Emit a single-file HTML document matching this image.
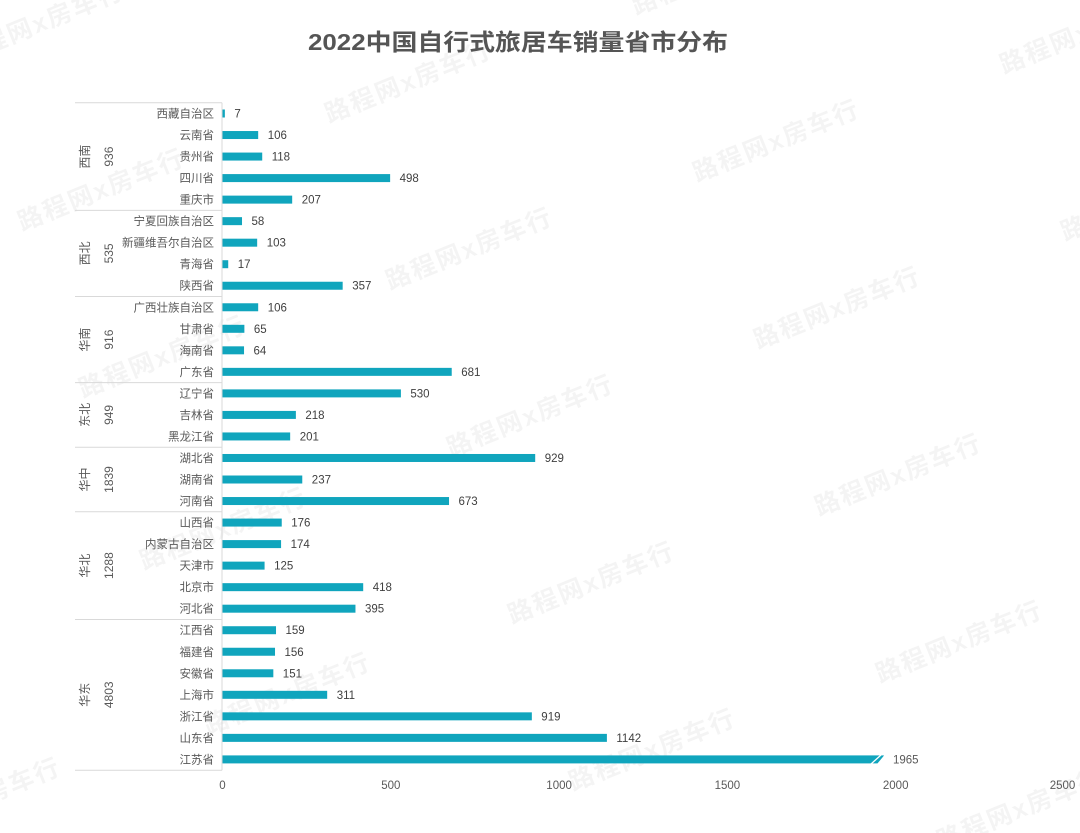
<!DOCTYPE html>
<html><head><meta charset="utf-8"><style>
html,body{margin:0;padding:0;background:#fff;}
svg{display:block;}
.wm{font-family:"Liberation Sans","Noto Sans CJK SC",sans-serif;font-weight:bold;font-size:25px;fill:#000;fill-opacity:0.045;letter-spacing:2px;}
.cat{font-family:"Liberation Sans","Noto Sans CJK SC",sans-serif;font-size:11.5px;fill:#595959;text-anchor:end;}
.val{font-family:"Liberation Sans","Noto Sans CJK SC",sans-serif;font-size:11.5px;fill:#404040;}
.tick{font-family:"Liberation Sans","Noto Sans CJK SC",sans-serif;font-size:11.5px;fill:#595959;text-anchor:middle;}
.grp{font-family:"Liberation Sans","Noto Sans CJK SC",sans-serif;font-size:12px;fill:#595959;text-anchor:middle;dominant-baseline:central;}
</style></head><body>
<svg width="1080" height="833" viewBox="0 0 1080 833" xmlns="http://www.w3.org/2000/svg">
<rect width="1080" height="833" fill="#fff"/>
<!-- watermarks -->
<g class="wm">
<text transform="translate(329,123) rotate(-22)">路程网x房车行</text>
<text transform="translate(390,290) rotate(-22)">路程网x房车行</text>
<text transform="translate(451,457) rotate(-22)">路程网x房车行</text>
<text transform="translate(512,624) rotate(-22)">路程网x房车行</text>
<text transform="translate(573,791) rotate(-22)">路程网x房车行</text>
<text transform="translate(636,15) rotate(-22)">路程网x房车行</text>
<text transform="translate(697,182) rotate(-22)">路程网x房车行</text>
<text transform="translate(758,349) rotate(-22)">路程网x房车行</text>
<text transform="translate(819,516) rotate(-22)">路程网x房车行</text>
<text transform="translate(880,683) rotate(-22)">路程网x房车行</text>
<text transform="translate(941,850) rotate(-22)">路程网x房车行</text>
<text transform="translate(1004,74) rotate(-22)">路程网x房车行</text>
<text transform="translate(1065,241) rotate(-22)">路程网x房车行</text>
<text transform="translate(83,398) rotate(-22)">路程网x房车行</text>
<text transform="translate(22,231) rotate(-22)">路程网x房车行</text>
<text transform="translate(-39,64) rotate(-22)">路程网x房车行</text>
<text transform="translate(144,570) rotate(-22)">路程网x房车行</text>
<text transform="translate(208,735) rotate(-22)">路程网x房车行</text>
<text transform="translate(-163,673) rotate(-22)">路程网x房车行</text>
<text transform="translate(-102,840) rotate(-22)">路程网x房车行</text>
</g>

<!-- title -->
<text x="518" y="50" text-anchor="middle" textLength="420" lengthAdjust="spacingAndGlyphs" style="font-family:'Liberation Sans','Noto Sans CJK SC',sans-serif;font-weight:bold;font-size:23px;fill:#555;">2022中国自行式旅居车销量省市分布</text>

<!-- group lines -->
<g stroke="#d9d9d9" stroke-width="1">
<line x1="75" y1="102.7" x2="222" y2="102.7"/>
<line x1="75" y1="210.4" x2="222" y2="210.4"/>
<line x1="75" y1="296.5" x2="222" y2="296.5"/>
<line x1="75" y1="382.6" x2="222" y2="382.6"/>
<line x1="75" y1="447.2" x2="222" y2="447.2"/>
<line x1="75" y1="511.8" x2="222" y2="511.8"/>
<line x1="75" y1="619.5" x2="222" y2="619.5"/>
<line x1="75" y1="770.2" x2="222" y2="770.2"/>
<line x1="222" y1="102.7" x2="222" y2="770.2"/>
</g>

<!-- group labels -->
<g class="grp">
<text transform="translate(85,156.6) rotate(-90)">西南</text>
<text transform="translate(109,156.6) rotate(-90)">936</text>
<text transform="translate(85,253.4) rotate(-90)">西北</text>
<text transform="translate(109,253.4) rotate(-90)">535</text>
<text transform="translate(85,339.6) rotate(-90)">华南</text>
<text transform="translate(109,339.6) rotate(-90)">916</text>
<text transform="translate(85,414.9) rotate(-90)">东北</text>
<text transform="translate(109,414.9) rotate(-90)">949</text>
<text transform="translate(85,479.5) rotate(-90)">华中</text>
<text transform="translate(109,479.5) rotate(-90)">1839</text>
<text transform="translate(85,565.6) rotate(-90)">华北</text>
<text transform="translate(109,565.6) rotate(-90)">1288</text>
<text transform="translate(85,694.8) rotate(-90)">华东</text>
<text transform="translate(109,694.8) rotate(-90)">4803</text>
</g>

<!-- bars -->
<g fill="#10a5bd">
<rect x="222.5" y="109.5" width="2.36" height="8"/>
<rect x="222.5" y="131.03" width="35.68" height="8"/>
<rect x="222.5" y="152.56" width="39.72" height="8"/>
<rect x="222.5" y="174.09" width="167.63" height="8"/>
<rect x="222.5" y="195.62" width="69.68" height="8"/>
<rect x="222.5" y="217.15" width="19.52" height="8"/>
<rect x="222.5" y="238.68" width="34.67" height="8"/>
<rect x="222.5" y="260.21" width="5.72" height="8"/>
<rect x="222.5" y="281.74" width="120.17" height="8"/>
<rect x="222.5" y="303.27" width="35.68" height="8"/>
<rect x="222.5" y="324.8" width="21.88" height="8"/>
<rect x="222.5" y="346.33" width="21.54" height="8"/>
<rect x="222.5" y="367.86" width="229.22" height="8"/>
<rect x="222.5" y="389.39" width="178.40" height="8"/>
<rect x="222.5" y="410.92" width="73.38" height="8"/>
<rect x="222.5" y="432.45" width="67.66" height="8"/>
<rect x="222.5" y="453.98" width="312.70" height="8"/>
<rect x="222.5" y="475.51" width="79.77" height="8"/>
<rect x="222.5" y="497.04" width="226.53" height="8"/>
<rect x="222.5" y="518.57" width="59.24" height="8"/>
<rect x="222.5" y="540.1" width="58.57" height="8"/>
<rect x="222.5" y="561.63" width="42.08" height="8"/>
<rect x="222.5" y="583.16" width="140.70" height="8"/>
<rect x="222.5" y="604.69" width="132.96" height="8"/>
<rect x="222.5" y="626.22" width="53.52" height="8"/>
<rect x="222.5" y="647.75" width="52.51" height="8"/>
<rect x="222.5" y="669.28" width="50.83" height="8"/>
<rect x="222.5" y="690.81" width="104.68" height="8"/>
<rect x="222.5" y="712.34" width="309.34" height="8"/>
<rect x="222.5" y="733.87" width="384.40" height="8"/>
<rect x="222.5" y="755.4" width="661.42" height="8"/>
</g>
<!-- break mark on 1965 bar -->
<polygon points="884.5,755 884.5,764 877,764" fill="#fff"/>
<line x1="871" y1="764" x2="881" y2="755" stroke="#fff" stroke-width="1.3"/>

<!-- category labels -->
<g class="cat">
<text x="214" y="117.5">西藏自治区</text>
<text x="214" y="139.03">云南省</text>
<text x="214" y="160.56">贵州省</text>
<text x="214" y="182.09">四川省</text>
<text x="214" y="203.62">重庆市</text>
<text x="214" y="225.15">宁夏回族自治区</text>
<text x="214" y="246.68">新疆维吾尔自治区</text>
<text x="214" y="268.21">青海省</text>
<text x="214" y="289.74">陕西省</text>
<text x="214" y="311.27">广西壮族自治区</text>
<text x="214" y="332.8">甘肃省</text>
<text x="214" y="354.33">海南省</text>
<text x="214" y="375.86">广东省</text>
<text x="214" y="397.39">辽宁省</text>
<text x="214" y="418.92">吉林省</text>
<text x="214" y="440.45">黑龙江省</text>
<text x="214" y="461.98">湖北省</text>
<text x="214" y="483.51">湖南省</text>
<text x="214" y="505.04">河南省</text>
<text x="214" y="526.57">山西省</text>
<text x="214" y="548.1">内蒙古自治区</text>
<text x="214" y="569.63">天津市</text>
<text x="214" y="591.16">北京市</text>
<text x="214" y="612.69">河北省</text>
<text x="214" y="634.22">江西省</text>
<text x="214" y="655.75">福建省</text>
<text x="214" y="677.28">安徽省</text>
<text x="214" y="698.81">上海市</text>
<text x="214" y="720.34">浙江省</text>
<text x="214" y="741.87">山东省</text>
<text x="214" y="763.4">江苏省</text>
</g>

<!-- value labels -->
<g class="val">
<text x="234.4" y="117.5">7</text>
<text x="267.7" y="139.03">106</text>
<text x="271.7" y="160.56">118</text>
<text x="399.6" y="182.09">498</text>
<text x="301.7" y="203.62">207</text>
<text x="251.5" y="225.15">58</text>
<text x="266.7" y="246.68">103</text>
<text x="237.7" y="268.21">17</text>
<text x="352.2" y="289.74">357</text>
<text x="267.7" y="311.27">106</text>
<text x="253.9" y="332.8">65</text>
<text x="253.5" y="354.33">64</text>
<text x="461.2" y="375.86">681</text>
<text x="410.4" y="397.39">530</text>
<text x="305.4" y="418.92">218</text>
<text x="299.7" y="440.45">201</text>
<text x="544.7" y="461.98">929</text>
<text x="311.8" y="483.51">237</text>
<text x="458.5" y="505.04">673</text>
<text x="291.2" y="526.57">176</text>
<text x="290.6" y="548.1">174</text>
<text x="274.1" y="569.63">125</text>
<text x="372.7" y="591.16">418</text>
<text x="365.0" y="612.69">395</text>
<text x="285.5" y="634.22">159</text>
<text x="284.5" y="655.75">156</text>
<text x="282.8" y="677.28">151</text>
<text x="336.7" y="698.81">311</text>
<text x="541.3" y="720.34">919</text>
<text x="616.4" y="741.87">1142</text>
<text x="893" y="763.4" style="fill:#595959">1965</text>
</g>

<!-- x ticks -->
<g class="tick">
<text x="222.5" y="789">0</text>
<text x="390.8" y="789">500</text>
<text x="559.1" y="789">1000</text>
<text x="727.4" y="789">1500</text>
<text x="895.7" y="789">2000</text>
<text x="1062.5" y="789">2500</text>
</g>
</svg>
</body></html>
